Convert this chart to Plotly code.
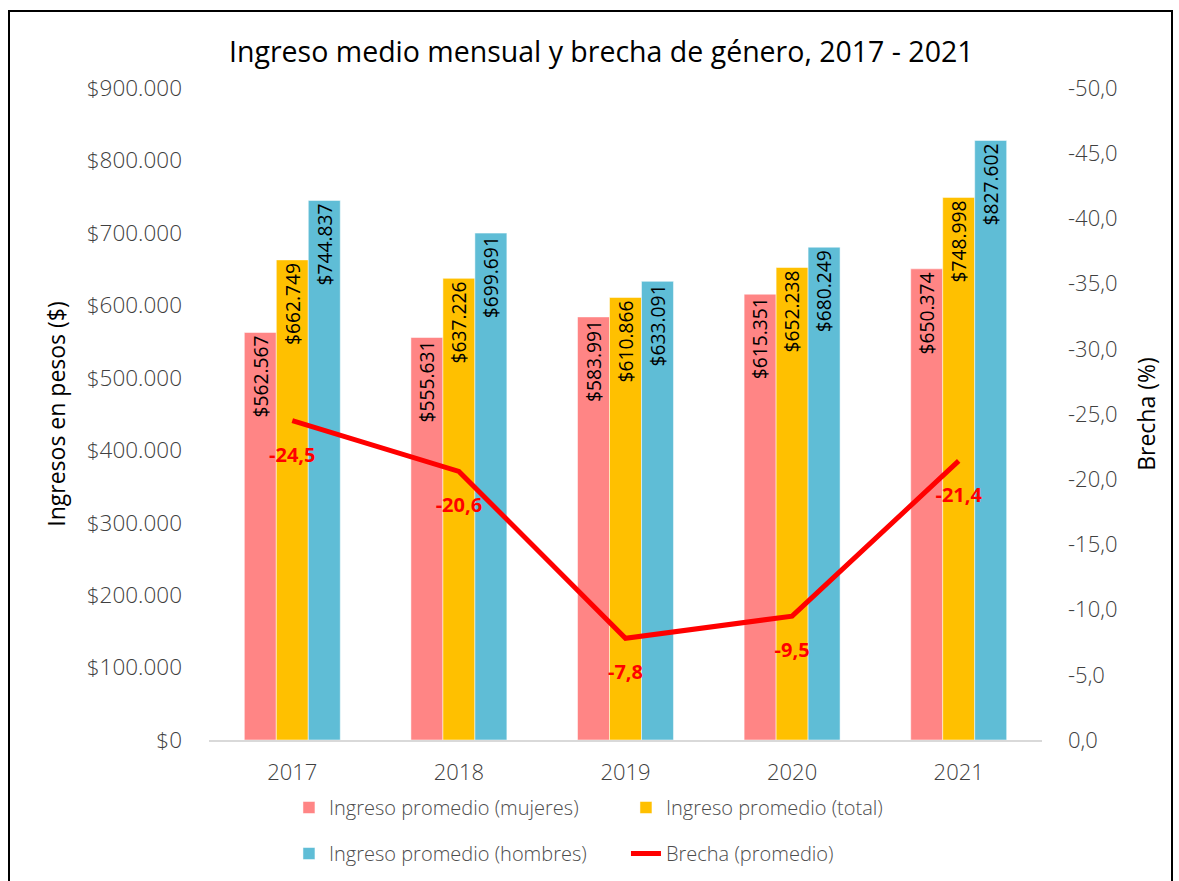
import plotly.graph_objects as go

years = ["2017", "2018", "2019", "2020", "2021"]
mujeres = [562567, 555631, 583991, 615351, 650374]
total = [662749, 637226, 610866, 652238, 748998]
hombres = [744837, 699691, 633091, 680249, 827602]
brecha = [-24.5, -20.6, -7.8, -9.5, -21.4]
brecha_ticks = [0, -5, -10, -15, -20, -25, -30, -35, -40, -45, -50]
brecha_ticktext = ["0,0", "-5,0", "-10,0", "-15,0", "-20,0", "-25,0",
                   "-30,0", "-35,0", "-40,0", "-45,0", "-50,0"]

FONT = "Open Sans"
GRAY = "#404040"

fig = go.Figure()

def bar(name, vals, color, legend):
    return go.Bar(
        x=years, y=vals, name=name,
        marker=dict(color=color, line=dict(color="rgba(255,255,255,0.5)", width=1)),
        texttemplate="$%{y:,d}", textposition="inside", insidetextanchor="end",
        textangle=-90, textfont=dict(family=FONT, size=20, color="black"),
        legend=legend, cliponaxis=False,
    )

fig.add_trace(bar("Ingreso promedio (mujeres)", mujeres, "#FF8585", "legend"))
fig.add_trace(bar("Ingreso promedio (total)", total, "#FFC000", "legend"))
fig.add_trace(bar("Ingreso promedio (hombres)", hombres, "#5FBDD6", "legend2"))
fig.add_trace(go.Scatter(
    x=years, y=brecha, name="Brecha (promedio)", yaxis="y2",
    mode="lines+markers+text", line=dict(color="#FF0000", width=5),
    marker=dict(size=40, opacity=0, color="rgba(0,0,0,0)", line=dict(width=0)),
    texttemplate="%{y:.1f}", textposition="bottom center",
    textfont=dict(family=FONT, size=20, color="#FF0000", weight="bold"),
    legend="legend2",
))

legend_common = dict(orientation="h", xanchor="left", yanchor="top",
                     entrywidth=292, entrywidthmode="pixels",
                     font=dict(size=20, color="#4D4D4D", weight=300), bgcolor="rgba(0,0,0,0)")

fig.update_layout(
    width=1179, height=881,
    margin=dict(l=209, r=137, t=88, b=141, autoexpand=False),
    paper_bgcolor="white", plot_bgcolor="white",
    separators=",.",
    font=dict(family=FONT, size=22, color=GRAY),
    title=dict(text="Ingreso medio mensual y brecha de género, 2017 - 2021",
               x=0.51, xanchor="center", y=1 - 52 / 881, yanchor="middle",
               font=dict(family=FONT, size=28.5, color="black")),
    barmode="group", bargap=0.424, bargroupgap=0,
    xaxis=dict(showline=True, linecolor="#D9D9D9", linewidth=2, showgrid=False,
               tickfont=dict(size=22, color=GRAY, weight=300), ticklabelstandoff=12,
               automargin=False),
    yaxis=dict(range=[0, 900000], dtick=100000, tickformat=",d", tickprefix="$",
               showgrid=False, zeroline=False, ticklabelstandoff=26,
               tickfont=dict(size=22.5, color=GRAY, weight=300), automargin=False,
               title=dict(text="Ingresos en pesos ($)", font=dict(size=23, color="black"), standoff=14)),
    yaxis2=dict(range=[0, -50], tickmode="array", tickvals=brecha_ticks, ticktext=brecha_ticktext,
                overlaying="y", side="right",
                showgrid=False, zeroline=False, ticklabelstandoff=25,
                tickfont=dict(size=22, color=GRAY, weight=300), automargin=False,
                title=dict(text="Brecha (%)", font=dict(size=23, color="black"), standoff=22)),
    legend=dict(x=0.096, y=-0.0736, **legend_common),
    legend2=dict(x=0.096, y=-0.1442, **legend_common),
    showlegend=True,
)

# chart frame
fig.add_shape(type="rect", xref="paper", yref="paper",
              x0=(9 - 209) / 833, x1=(1172 - 209) / 833,
              y0=(740 - 900) / 652, y1=(740 - 11) / 652,
              line=dict(color="black", width=2), layer="below")

fig.write_html("out.html", config={"displayModeBar": False},
               post_script="document.body.style.margin='0';")
